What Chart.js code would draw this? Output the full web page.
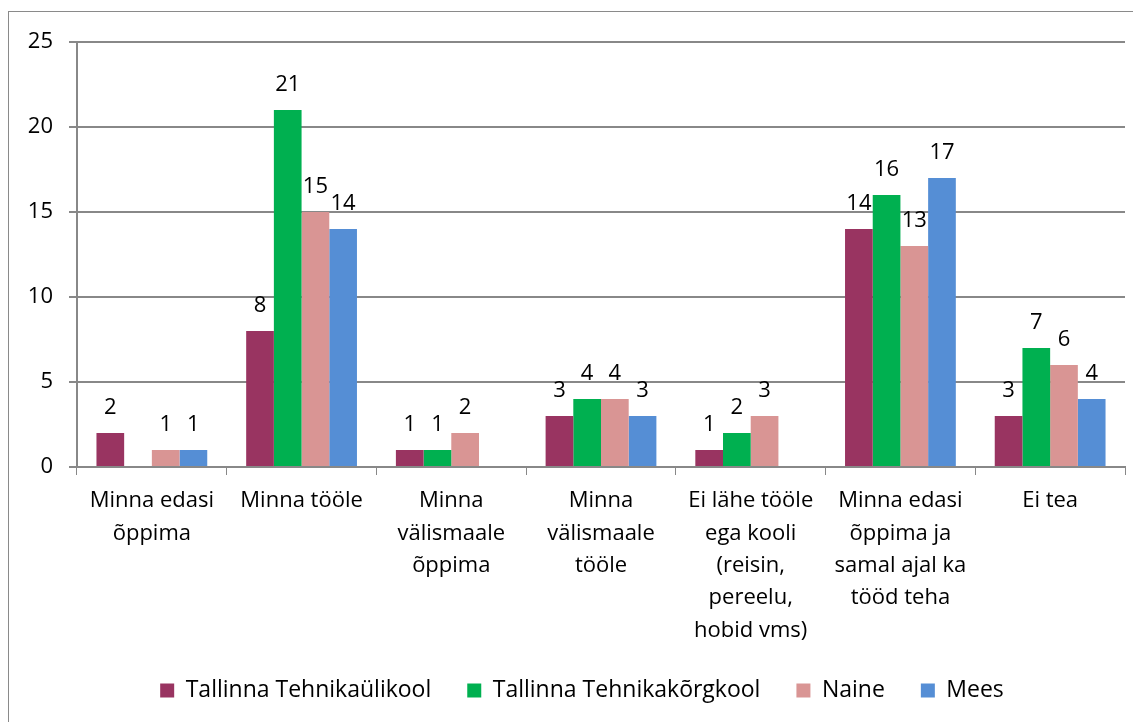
<!DOCTYPE html>
<html>
<head>
<meta charset="utf-8">
<script src="https://cdn.jsdelivr.net/npm/chart.js@4/dist/chart.umd.min.js"></script>
<style>
    html, body { margin: 0; padding: 0; background: #fff; overflow: hidden; }
    #box {
        position: absolute; left: 8px; top: 11px;
        width: 1140px; height: 720px;
        border: 1px solid #8a8a8a;
    }
    #wrap { position: absolute; left: 0; top: 0; width: 1124px; height: 710px; }
</style>
</head>
<body>
<div id="box"><div id="wrap"><canvas id="chart"></canvas></div></div>
<script>
    const categories = [
        ['Minna edasi', 'õppima'],
        'Minna tööle',
        ['Minna', 'välismaale', 'õppima'],
        ['Minna', 'välismaale', 'tööle'],
        ['Ei lähe tööle', 'ega kooli', '(reisin,', 'pereelu,', 'hobid vms)'],
        ['Minna edasi', 'õppima ja', 'samal ajal ka', 'tööd teha'],
        'Ei tea'
    ];
    const seriesNames = ['Tallinna Tehnikaülikool', 'Tallinna Tehnikakõrgkool', 'Naine', 'Mees'];
    const ttu = [2, 8, 1, 3, 1, 14, 3];
    const tktk = [null, 21, 1, 4, 2, 16, 7];
    const naine = [1, 15, 2, 4, 3, 13, 6];
    const mees = [1, 14, null, 3, null, 17, 4];
    const yTicks = [0, 5, 10, 15, 20, 25];

    const colors = ['#993461', '#00B050', '#D99594', '#558ED5'];
    const fontFamily = '"Open Sans", sans-serif';
    const fontSize = 22;

    // simple value labels above the bars
    const barLabels = {
        id: 'barLabels',
        afterDatasetsDraw(chart) {
            const ctx = chart.ctx;
            ctx.save();
            ctx.font = fontSize + 'px ' + fontFamily;
            ctx.fillStyle = '#000';
            ctx.textAlign = 'center';
            ctx.textBaseline = 'alphabetic';
            chart.data.datasets.forEach((ds, i) => {
                chart.getDatasetMeta(i).data.forEach((bar, j) => {
                    const v = ds.data[j];
                    if (v === null || v === undefined) return;
                    ctx.fillText(String(v), bar.x, bar.y - 19);
                });
            });
            ctx.restore();
        }
    };

    // the original legend sits a bit right of the canvas centre
    const legendShift = {
        id: 'legendShift',
        afterLayout(chart) {
            if (!chart.legend) return;
            chart.legend.left += 15;
            chart.legend.right += 15;
        }
    };

    const seriesData = [ttu, tktk, naine, mees];

    new Chart(document.getElementById('chart'), {
        type: 'bar',
        data: {
            labels: categories,
            datasets: seriesNames.map((name, i) => ({
                label: name,
                data: seriesData[i],
                backgroundColor: colors[i],
                borderWidth: 0,
                barPercentage: 1,
                categoryPercentage: 0.74
            }))
        },
        options: {
            responsive: true,
            maintainAspectRatio: false,
            animation: false,
            layout: { padding: { top: 30, right: 8, left: 0, bottom: 10 } },
            plugins: {
                legend: {
                    position: 'bottom',
                    labels: {
                        color: '#000',
                        font: { family: fontFamily, size: 23 },
                        boxWidth: 14,
                        boxHeight: 14,
                        padding: 36
                    }
                },
                tooltip: { enabled: false }
            },
            scales: {
                x: {
                    afterFit(scale) { scale.height = 176; },
                    grid: {
                        display: true,
                        drawOnChartArea: false,
                        offset: true,
                        tickLength: 8,
                        color: '#888'
                    },
                    border: { color: '#888', width: 2 },
                    ticks: {
                        color: '#000',
                        font: { family: fontFamily, size: fontSize, lineHeight: 1.47 },
                        maxRotation: 0,
                        autoSkip: false,
                        padding: 10
                    }
                },
                y: {
                    min: 0,
                    max: 25,
                    afterBuildTicks(scale) {
                        scale.ticks = yTicks.map(v => ({ value: v }));
                    },
                    afterFit(scale) { scale.width = 68; },
                    grid: { color: '#888', lineWidth: 2, tickLength: 8 },
                    border: { color: '#888', width: 2 },
                    ticks: {
                        color: '#000',
                        font: { family: fontFamily, size: fontSize },
                        padding: 16
                    }
                }
            }
        },
        plugins: [barLabels, legendShift]
    });
</script>
</body>
</html>
